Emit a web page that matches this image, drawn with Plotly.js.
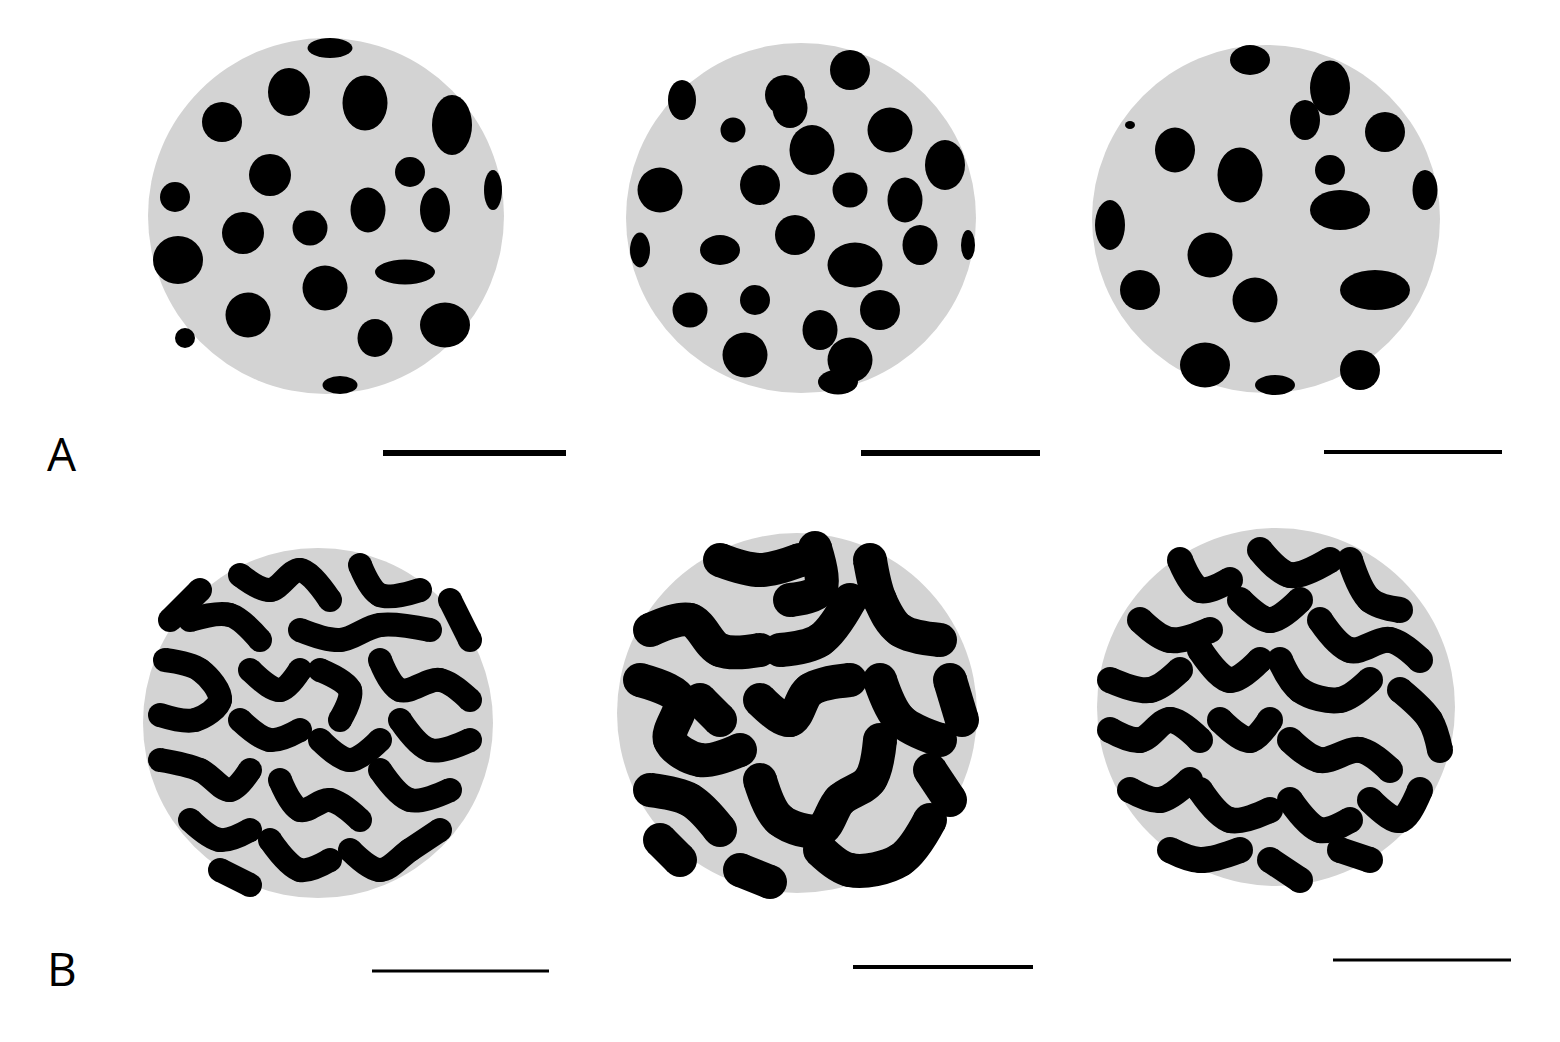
<!DOCTYPE html>
<html>
<head>
<meta charset="utf-8">
<script src="https://cdn.plot.ly/plotly-3.0.1.min.js"></script>
<style>html,body{margin:0;padding:0;background:#fff}#chart{width:1560px;height:1042px}</style>
</head>
<body>
<div id="chart"></div>
<script>
// discs: centre x, centre y, radius (pixel units of the page)
const discX = [326, 801, 1266, 318, 797, 1276];
const discY = [216, 218, 219, 723, 713, 707];
const discR = [178, 175, 174, 175, 180, 179];

// top row spots: x, y, width, height
const spot1x = [222,289,365,330,452,175,270,410,435,493,243,310,368,178,325,405,248,375,445,185,340];
const spot1y = [122,92,103,48,125,197,175,172,210,190,233,228,210,260,288,272,315,338,325,338,385];
const spot1w = [40,42,45,45,40,30,42,30,30,18,42,35,35,50,45,60,45,35,50,20,35];
const spot1h = [40,48,55,20,60,30,42,30,45,40,42,35,45,48,45,25,45,38,45,20,18];

const spot2x = [682,733,785,850,790,812,890,945,660,760,850,905,640,720,795,855,920,968,690,755,820,880,745,850,838];
const spot2y = [100,130,95,70,108,150,130,165,190,185,190,200,250,250,235,265,245,245,310,300,330,310,355,360,382];
const spot2w = [28,25,40,40,35,45,45,40,45,40,35,35,20,40,40,55,35,14,35,30,35,40,45,45,40];
const spot2h = [40,25,40,40,40,50,45,50,45,40,35,45,35,30,40,45,40,30,35,30,40,40,45,45,25];

const spot3x = [1250,1330,1385,1175,1240,1305,1330,1425,1110,1210,1340,1140,1255,1375,1205,1275,1360,1130];
const spot3y = [60,88,132,150,175,120,170,190,225,255,210,290,300,290,365,385,370,125];
const spot3w = [40,40,40,40,45,30,30,25,30,45,60,40,45,70,50,40,40,10];
const spot3h = [30,55,40,45,55,40,30,40,50,45,40,40,45,40,45,20,40,8];

// bottom row worm strokes, one list of [x, y] per stroke
const worms4 = [
  [[240,575],[270,590],[300,570],[330,600]],[[360,565],[380,595],[420,590]],
  [[190,620],[230,615],[260,640]],[[300,630],[340,640],[380,625],[430,630]],
  [[165,660],[200,670],[220,700],[195,720],[160,715]],[[250,670],[280,690],[300,670]],
  [[320,670],[350,690],[340,720]],[[380,660],[400,690],[440,680],[470,700]],
  [[240,720],[270,740],[300,730]],[[320,740],[350,760],[380,740]],
  [[400,720],[430,750],[470,740]],[[160,760],[200,770],[230,790],[250,770]],
  [[280,780],[300,810],[330,800],[360,820]],[[380,770],[410,800],[450,790]],
  [[190,820],[220,840],[250,830]],[[270,840],[300,870],[330,860]],
  [[350,850],[380,870],[410,850],[440,830]],[[220,870],[250,885]],
  [[200,590],[170,620]],[[450,600],[470,640]]
];
const worms5 = [
  [[720,560],[760,570],[800,560]],[[815,548],[820,590],[790,600]],
  [[870,560],[880,600],[900,630],[940,640]],[[650,630],[690,620],[720,650],[760,650]],
  [[780,650],[820,640],[850,600]],[[640,680],[680,700],[670,740],[700,760],[740,750]],
  [[760,700],[790,720],[810,690],[850,680]],[[880,680],[900,720],[940,740]],
  [[950,680],[962,720]],[[650,790],[690,800],[720,830]],
  [[760,780],[780,820],[820,830],[840,800],[870,780],[880,740]],
  [[820,850],[850,870],[900,860],[930,820]],[[660,840],[680,860]],
  [[740,870],[770,882]],[[950,800],[930,770]],[[700,700],[720,720]]
];
const worms6 = [
  [[1180,560],[1200,590],[1230,580]],[[1260,550],[1290,575],[1330,560]],
  [[1350,560],[1370,600],[1400,610]],[[1140,620],[1170,640],[1210,630]],
  [[1240,600],[1270,620],[1300,600]],[[1320,620],[1350,650],[1390,640],[1420,660]],
  [[1110,680],[1150,690],[1180,670]],[[1200,650],[1230,680],[1260,660]],
  [[1280,660],[1300,690],[1340,700],[1370,680]],[[1400,690],[1430,720],[1440,750]],
  [[1110,730],[1140,740],[1170,720],[1200,740]],[[1220,720],[1250,740],[1270,720]],
  [[1290,740],[1320,760],[1360,750],[1390,770]],[[1130,790],[1160,800],[1190,780]],
  [[1200,790],[1230,820],[1270,810]],[[1290,800],[1320,830],[1350,820]],
  [[1370,800],[1400,820],[1420,790]],[[1170,850],[1200,860],[1240,850]],
  [[1270,860],[1300,880]],[[1340,850],[1370,860]]
];

// scale bars: x0, x1, y, thickness
const barX0 = [383, 861, 1324, 372, 853, 1333];
const barX1 = [566, 1040, 1502, 549, 1033, 1511];
const barY = [453, 453, 452, 971, 967, 960];
const barW = [6, 6, 4, 3, 4, 3];

const panelLabels = ["A", "B"];
const labelY = [453, 968];

let shapes = [];
for (let i = 0; i < discX.length; i++) {
    shapes.push({ type: "circle", xref: "x", yref: "y", layer: "below",
        x0: discX[i] - discR[i], x1: discX[i] + discR[i],
        y0: discY[i] - discR[i], y1: discY[i] + discR[i],
        fillcolor: "#d3d3d3", line: { width: 0 } });
    shapes.push({ type: "line", xref: "x", yref: "y",
        x0: barX0[i], x1: barX1[i], y0: barY[i], y1: barY[i],
        line: { color: "#000", width: barW[i] } });
}
function addSpots(xs, ys, ws, hs) {
    for (let i = 0; i < xs.length; i++) {
        shapes.push({ type: "circle", xref: "x", yref: "y", layer: "above",
            x0: xs[i] - ws[i] / 2, x1: xs[i] + ws[i] / 2,
            y0: ys[i] - hs[i] / 2, y1: ys[i] + hs[i] / 2,
            fillcolor: "#000", line: { width: 0 } });
    }
}
addSpots(spot1x, spot1y, spot1w, spot1h);
addSpots(spot2x, spot2y, spot2w, spot2h);
addSpots(spot3x, spot3y, spot3w, spot3h);

// round ends and joints with markers the same size as the line
function wormTrace(worms, width) {
    let x = [], y = [];
    worms.forEach(w => {
        w.forEach(p => { x.push(p[0]); y.push(p[1]); });
        x.push(null); y.push(null);
    });
    return { x: x, y: y, type: "scatter", mode: "lines+markers", hoverinfo: "skip",
        line: { color: "#000", width: width, shape: "spline" },
        marker: { color: "#000", size: width, line: { width: 0 } }, connectgaps: false };
}
let data = [wormTrace(worms4, 24), wormTrace(worms5, 34), wormTrace(worms6, 26)];

let annotations = panelLabels.map((t, i) => ({
    text: t, x: 62, y: labelY[i], xref: "x", yref: "y", showarrow: false,
    font: { family: "Open Sans, DejaVu Sans, sans-serif", size: 46, color: "#000" }
}));

let layout = {
    width: 1560, height: 1042, showlegend: false,
    margin: { l: 0, r: 0, t: 0, b: 0 },
    paper_bgcolor: "#fff", plot_bgcolor: "#fff",
    xaxis: { range: [0, 1560], visible: false, fixedrange: true },
    yaxis: { range: [1042, 0], visible: false, fixedrange: true },
    shapes: shapes, annotations: annotations
};
Plotly.newPlot("chart", data, layout, { staticPlot: true });
</script>
</body>
</html>
